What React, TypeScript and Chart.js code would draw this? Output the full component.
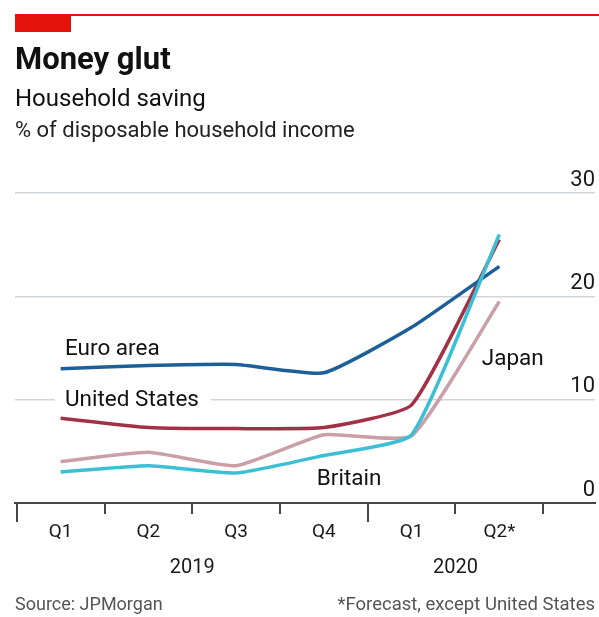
import React, { useEffect, useRef } from "react";
import { Chart, registerables } from "chart.js";

Chart.register(...registerables);

// ---- data ----
const quarters = ["Q1", "Q2", "Q3", "Q4", "Q1", "Q2*"];
const years = ["2019", "2020"];
const yearPositions = [1.5, 4.5];
const yTicks = [0, 10, 20, 30];
const tickPositions = [-0.5, 0.5, 1.5, 2.5, 3.5, 4.5, 5.5];
const majorTicks = [-0.5, 3.5];

const euroArea = [13.0, 13.3, 13.4, 12.6, 17.0, 22.9];
const unitedStates = [8.2, 7.3, 7.2, 7.3, 9.5, 25.5];
const japan = [4.0, 4.9, 3.6, 6.6, 6.5, 19.5];
const britain = [3.0, 3.6, 2.9, 4.6, 6.6, 26.0];

const seriesNames = ["Euro area", "United States", "Japan", "Britain"];

// ---- styling ----
const FONT = "Roboto, 'Open Sans', sans-serif";
const AXIS = "#474747";
const GRID = "#cfd5db";
const COLORS = {
  euro: "#1d5f98",
  us: "#a23146",
  japan: "#c9a0a8",
  britain: "#3cbfd5",
};

// label anchor positions (data coordinates)
const labelSpots = [
  { name: seriesNames[0], x: 0.05, y: 15.0, knockout: false },
  { name: seriesNames[1], x: 0.05, y: 10.0, knockout: true },
  { name: seriesNames[2], x: 4.8, y: 14.0, knockout: false },
  { name: seriesNames[3], x: 2.92, y: 2.35, knockout: false },
];

const toPoints = (arr: number[]) => arr.map((v, i) => ({ x: i, y: v }));

const labelsPlugin = {
  id: "seriesLabels",
  beforeDatasetsDraw(chart: any) {
    const { ctx } = chart;
    const xs = chart.scales.x;
    const ys = chart.scales.y;
    ctx.save();
    ctx.font = `22.5px ${FONT}`;
    ctx.textBaseline = "middle";
    ctx.textAlign = "left";
    labelSpots.forEach((l) => {
      const px = xs.getPixelForValue(l.x);
      const py = ys.getPixelForValue(l.y);
      if (l.knockout) {
        const w = ctx.measureText(l.name).width;
        ctx.fillStyle = "#ffffff";
        ctx.fillRect(px - 10, py - 13, w + 22, 26);
      }
      ctx.fillStyle = "#121212";
      ctx.fillText(l.name, px, py + 1);
    });
    ctx.restore();
  },
};

const tickMarksPlugin = {
  id: "tickMarks",
  afterDraw(chart: any) {
    const { ctx } = chart;
    const xs = chart.scales.x;
    const bottom = chart.chartArea.bottom;
    ctx.save();
    ctx.strokeStyle = AXIS;
    ctx.lineWidth = 2;
    tickPositions.forEach((v) => {
      const px = Math.round(xs.getPixelForValue(v));
      const len = majorTicks.includes(v) ? 19 : 11;
      ctx.beginPath();
      ctx.moveTo(px, bottom);
      ctx.lineTo(px, bottom + len);
      ctx.stroke();
    });
    ctx.restore();
  },
};

export default function App() {
  const ref = useRef<HTMLCanvasElement | null>(null);

  useEffect(() => {
    if (!ref.current) return;
    const common = {
      borderWidth: 3.5,
      pointRadius: 0,
      tension: 0.15,
      fill: false,
      borderJoinStyle: "round" as const,
    };
    const chart = new Chart(ref.current, {
      type: "line",
      data: {
        datasets: [
          { ...common, label: seriesNames[3], data: toPoints(britain), borderColor: COLORS.britain, order: 0 },
          { ...common, label: seriesNames[0], data: toPoints(euroArea), borderColor: COLORS.euro, order: 1 },
          { ...common, label: seriesNames[1], data: toPoints(unitedStates), borderColor: COLORS.us, order: 2 },
          { ...common, label: seriesNames[2], data: toPoints(japan), borderColor: COLORS.japan, order: 3 },
        ],
      },
      options: {
        animation: false,
        responsive: false,
        layout: { padding: { top: 193, left: 15, right: 4, bottom: 34 } },
        plugins: {
          legend: { display: false },
          tooltip: { enabled: false },
          title: { display: false },
        },
        scales: {
          x: {
            type: "linear",
            position: "bottom",
            min: -0.52,
            max: 6.09,
            afterBuildTicks: (s: any) => {
              s.ticks = quarters.map((_, i) => ({ value: i }));
            },
            afterFit: (s: any) => {
              s.height = 50;
            },
            ticks: {
              callback: (v: any) => quarters[v as number],
              autoSkip: false,
              maxRotation: 0,
              padding: 18,
              color: "#1a1a1a",
              font: { family: FONT, size: 19 },
            },
            grid: { display: false, drawTicks: false },
            border: { display: true, color: AXIS, width: 2 },
          },
          x2: {
            type: "linear",
            position: "bottom",
            min: -0.52,
            max: 6.09,
            afterBuildTicks: (s: any) => {
              s.ticks = yearPositions.map((v) => ({ value: v }));
            },
            afterFit: (s: any) => {
              s.height = 30;
            },
            ticks: {
              callback: (v: any) => years[yearPositions.indexOf(v as number)],
              autoSkip: false,
              maxRotation: 0,
              padding: 3,
              color: "#1a1a1a",
              font: { family: FONT, size: 20 },
            },
            grid: { display: false, drawTicks: false },
            border: { display: false },
          },
          y: {
            type: "linear",
            position: "right",
            min: 0,
            max: 30,
            afterBuildTicks: (s: any) => {
              s.ticks = yTicks.map((v) => ({ value: v }));
            },
            ticks: {
              mirror: true,
              padding: 0,
              labelOffset: -13,
              color: "#1a1a1a",
              font: { family: FONT, size: 22 },
            },
            grid: {
              color: (c: any) => (c.tick && c.tick.value === 0 ? "rgba(0,0,0,0)" : GRID),
              lineWidth: 1.6,
              drawTicks: false,
            },
            border: { display: false },
          },
        },
      },
      plugins: [labelsPlugin, tickMarksPlugin],
    });
    return () => chart.destroy();
  }, []);

  const text = (style: React.CSSProperties, content: string) => (
    <div style={{ position: "absolute", fontFamily: FONT, whiteSpace: "nowrap", color: "#111", ...style }}>{content}</div>
  );

  return (
    <div style={{ position: "absolute", left: 0, top: 0, width: 599, height: 617, background: "#fff", overflow: "hidden" }}>
      <canvas ref={ref} width={599} height={617} style={{ position: "absolute", left: 0, top: 0, width: 599, height: 617 }} />
      <div style={{ position: "absolute", left: 15, top: 14, width: 584, height: 2, background: "#e3120b" }} />
      <div style={{ position: "absolute", left: 15, top: 14, width: 56, height: 18, background: "#e3120b" }} />
      {text({ left: 15, top: 41, fontSize: 31, fontWeight: 700, lineHeight: "36px" }, "Money glut")}
      {text({ left: 15, top: 84, fontSize: 24, lineHeight: "28px" }, "Household saving")}
      {text({ left: 15, top: 117, fontSize: 22, lineHeight: "26px", color: "#222" }, "% of disposable household income")}
      {text({ left: 15, top: 593, fontSize: 18, lineHeight: "22px", color: "#555" }, "Source: JPMorgan")}
      {text({ right: 4, top: 593, fontSize: 18.5, lineHeight: "22px", color: "#555" }, "*Forecast, except United States")}
    </div>
  );
}
